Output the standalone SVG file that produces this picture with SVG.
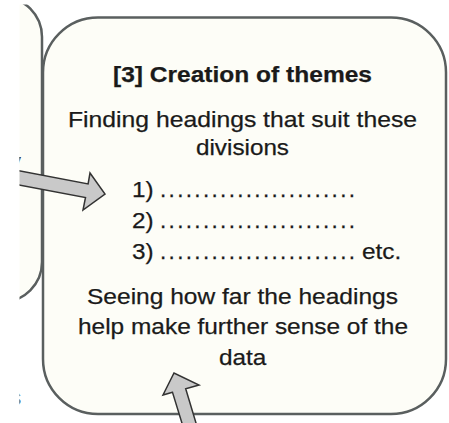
<svg xmlns="http://www.w3.org/2000/svg" width="449" height="423" viewBox="0 0 449 423">
  <defs>
    <clipPath id="frame">
      <rect x="19.5" y="4.5" width="430" height="419"/>
    </clipPath>
    <style>
      .box { fill: #fdfdf7; stroke: #5a5f5f; stroke-width: 2.5; }
      .arrow { fill: #c9c9c9; stroke: #333333; stroke-width: 1.5; stroke-linejoin: miter; }
      .t { font-family: "Liberation Sans", Arial, Helvetica, sans-serif; font-size: 22.5px; fill: #1a1a1a; stroke: #1a1a1a; stroke-width: 0.25; }
      .b { font-weight: bold; }
    </style>
  </defs>
  <rect width="449" height="423" fill="#ffffff"/>
  <g clip-path="url(#frame)">
    <!-- neighbouring stage, only its right edge is in view -->
    <g id="node-left">
      <rect class="box" x="-100" y="-3" width="142" height="305" rx="40" ry="40"/>
      <text class="t" x="9.6" y="169">y</text>
      <text class="t" x="9.8" y="405">s</text>
    </g>

    <!-- stage 3 -->
    <g id="node-themes">
      <rect class="box" x="43" y="17.5" width="403" height="396.5" rx="55" ry="55"/>
      <text class="t b" x="113" y="82" textLength="259" lengthAdjust="spacingAndGlyphs">[3] Creation of themes</text>
      <text class="t" x="68" y="127" textLength="349" lengthAdjust="spacingAndGlyphs">Finding headings that suit these</text>
      <text class="t" x="196" y="155" textLength="93" lengthAdjust="spacingAndGlyphs">divisions</text>

      <text class="t" x="132" y="197" textLength="21.6" lengthAdjust="spacingAndGlyphs">1)</text>
      <text class="t" x="160" y="197" textLength="195" lengthAdjust="spacing">.......................</text>
      <text class="t" x="132" y="228" textLength="21.6" lengthAdjust="spacingAndGlyphs">2)</text>
      <text class="t" x="160" y="228" textLength="195" lengthAdjust="spacing">.......................</text>
      <text class="t" x="132" y="259" textLength="21.6" lengthAdjust="spacingAndGlyphs">3)</text>
      <text class="t" x="160" y="259" textLength="195" lengthAdjust="spacing">.......................</text>
      <text class="t" x="362" y="259" textLength="39.3" lengthAdjust="spacingAndGlyphs">etc.</text>

      <text class="t" x="87" y="304" textLength="311" lengthAdjust="spacingAndGlyphs">Seeing how far the headings</text>
      <text class="t" x="78" y="334" textLength="330" lengthAdjust="spacingAndGlyphs">help make further sense of the</text>
      <text class="t" x="219" y="365" textLength="47.4" lengthAdjust="spacingAndGlyphs">data</text>
    </g>

    <!-- incoming arrows -->
    <g id="connectors">
      <polygon class="arrow" points="0,167.2 88.1,183.9 90,173 105,194 83,210 85.5,197.5 0,181.3"/>
      <polygon class="arrow" points="172.5,392.3 163,395 174,373 199,385 185.7,388.7 199,433 185,433"/>
    </g>
  </g>
</svg>
